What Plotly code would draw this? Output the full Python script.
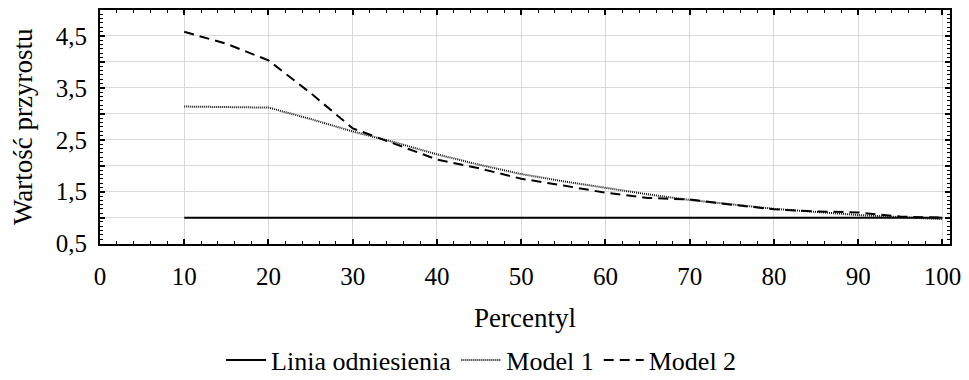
import plotly.graph_objects as go

percentiles = [10, 15, 20, 25, 30, 35, 40, 45, 50, 55, 60, 65, 70, 75, 80, 85, 90, 95, 100]
reference = [1.0] * len(percentiles)
model1 = [3.14, 3.13, 3.12, 2.90, 2.66, 2.45, 2.22, 2.02, 1.84, 1.70, 1.57, 1.45, 1.34, 1.25, 1.17, 1.11, 1.05, 1.01, 0.97]
model2 = [4.58, 4.35, 4.03, 3.40, 2.72, 2.42, 2.12, 1.95, 1.75, 1.62, 1.48, 1.38, 1.35, 1.25, 1.16, 1.12, 1.10, 1.02, 1.00]

y_tickvals = [0.5, 1.0, 1.5, 2.0, 2.5, 3.0, 3.5, 4.0, 4.5, 5.0]
y_ticktext = ["0,5", "", "1,5", "", "2,5", "", "3,5", "", "4,5", ""]
x_tickvals = [0, 10, 20, 30, 40, 50, 60, 70, 80, 90, 100]

FONT = "Liberation Serif"

fig = go.Figure()
fig.add_trace(go.Scatter(x=percentiles, y=reference, mode="lines", name="Linia odniesienia",
                         line=dict(color="black", width=2)))
fig.add_trace(go.Scatter(x=percentiles, y=model1, mode="lines", name="Model 1",
                         line=dict(color="#111111", width=2, dash="1px,1px")))
fig.add_trace(go.Scatter(x=percentiles, y=model2, mode="lines", name="Model 2",
                         line=dict(color="black", width=2, dash="10px,6px")))

fig.update_layout(
    width=969, height=380,
    margin=dict(l=100, r=17, t=8, b=132),
    paper_bgcolor="white", plot_bgcolor="white",
    font=dict(family=FONT, size=25, color="black"),
    showlegend=True,
    legend=dict(orientation="h", xref="container", yref="container",
                x=0.497, xanchor="center", y=1 - 360 / 380, yanchor="middle",
                font=dict(family=FONT, size=26), itemwidth=40, tracegroupgap=0,
                bgcolor="rgba(0,0,0,0)"),
)
fig.update_xaxes(
    range=[0, 100.9], tickvals=x_tickvals, ticks="inside", ticklen=5, tickwidth=2,
    tickcolor="black", showline=True, linecolor="black", linewidth=2, mirror="allticks",
    showgrid=True, gridcolor="#d9d9d9", gridwidth=1, zeroline=False,
    minor=dict(dtick=2, ticks="inside", ticklen=3, tickcolor="black", tickwidth=1, showgrid=False),
    ticklabelstandoff=9,
    title=dict(text="Percentyl", standoff=20, font=dict(family=FONT, size=27)),
    tickfont=dict(family=FONT, size=25),
)
fig.update_yaxes(
    range=[0.5, 5.0], tickvals=y_tickvals, ticktext=y_ticktext, ticks="inside", ticklen=5,
    tickwidth=2, tickcolor="black", showline=True, linecolor="black", linewidth=2,
    mirror="allticks", showgrid=True, gridcolor="#d9d9d9", gridwidth=1, zeroline=False,
    minor=dict(tick0=0.5, dtick=0.5 / 6, ticks="inside", ticklen=3, tickcolor="black",
               tickwidth=1, showgrid=False),
    ticklabelstandoff=6,
    title=dict(text="Wartość przyrostu", standoff=15, font=dict(family=FONT, size=27)),
    tickfont=dict(family=FONT, size=25),
)

fig.write_html("out.html", config={"displayModeBar": False},
               post_script="document.body.style.margin='0';")
